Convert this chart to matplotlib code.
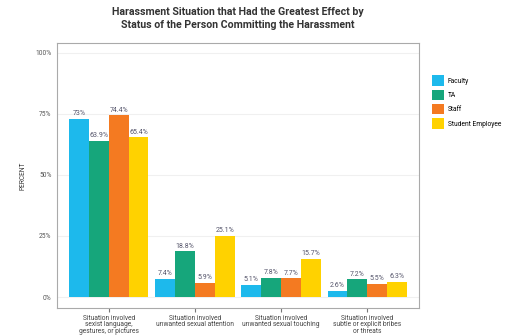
import numpy as np
import matplotlib.pyplot as plt

plt.rcParams['font.family'] = ['Roboto', 'DejaVu Sans']

# Данные
situations = ['Situation involved\nsexist language,\ngestures, or pictures',
              'Situation involved\nunwanted sexual attention',
              'Situation involved\nunwanted sexual touching',
              'Situation involved\nsubtle or explicit bribes\nor threats']
groups = ['Faculty', 'TA', 'Staff', 'Student Employee']
faculty = [73, 7.4, 5.1, 2.6]
ta = [63.9, 18.8, 7.8, 7.2]
staff = [74.4, 5.9, 7.7, 5.5]
student_emp = [65.4, 25.1, 15.7, 6.3]
value_labels = [['73%', '7.4%', '5.1%', '2.6%'],
                ['63.9%', '18.8%', '7.8%', '7.2%'],
                ['74.4%', '5.9%', '7.7%', '5.5%'],
                ['65.4%', '25.1%', '15.7%', '6.3%']]
yticks = [0, 25, 50, 75, 100]
ytick_labels = ['0%', '25%', '50%', '75%', '100%']

colors = ['#1DB9EC', '#16A67B', '#F47A21', '#FFD200']

fig = plt.figure(figsize=(5.13, 3.36), dpi=100)
ax = fig.add_axes([57 / 513, 1 - 308 / 336, 362 / 513, 265 / 336])

x = np.arange(len(situations))
w = 0.23
series = [faculty, ta, staff, student_emp]
for i, (vals, name, c) in enumerate(zip(series, groups, colors)):
    pos = x + (i - 1.5) * w
    ax.bar(pos, vals, w, color=c, label=name)
    for px, v, lab in zip(pos, vals, value_labels[i]):
        ax.text(px, v + 0.6, lab, ha='center', va='bottom', fontsize=5, color='#55556b')

ax.set_xlim(-0.6, 3.6)
ax.set_ylim(-4.5, 104)
ax.set_yticks(yticks)
ax.set_yticklabels(ytick_labels)
ax.set_xticks(x)
ax.set_xticklabels(situations, fontsize=4.8, color='#444444', linespacing=0.88)
ax.tick_params(axis='y', labelsize=4.8, colors='#555555', length=0, pad=4)
ax.tick_params(axis='x', length=3, color='#777777', pad=2)
ax.grid(axis='y', color='#f0f0f0', linewidth=0.8)
ax.set_axisbelow(True)
for s in ax.spines.values():
    s.set_color('#aaaaaa')
    s.set_linewidth(0.8)

ax.set_ylabel('PERCENT', fontsize=4.8, color='#333333', labelpad=6)
ax.set_title('Harassment Situation that Had the Greatest Effect by\nStatus of the Person Committing the Harassment',
             fontsize=7.6, fontweight='bold', color='#333333', pad=11, linespacing=1.35)

ax.legend(loc='upper left', bbox_to_anchor=(1.02, 0.9), frameon=False, fontsize=4.8,
          handlelength=1.7, handleheight=2.0, labelspacing=0.6, handletextpad=0.6)

plt.savefig('out.png', dpi=100)
